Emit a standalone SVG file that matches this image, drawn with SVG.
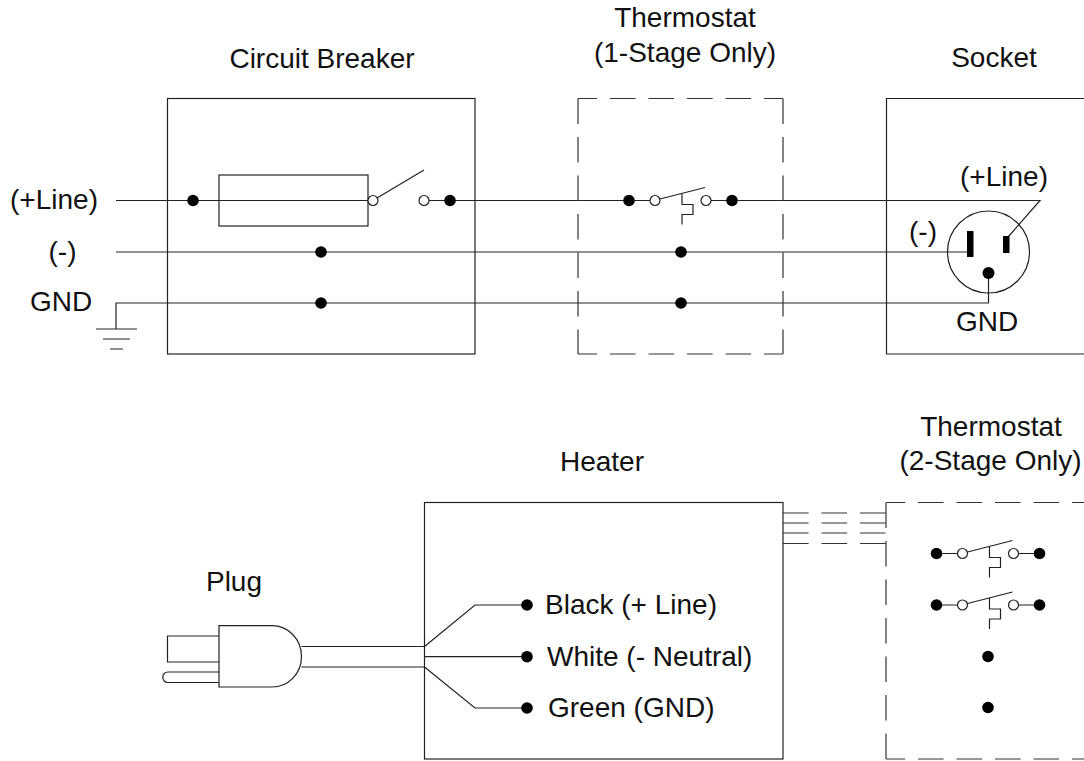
<svg xmlns="http://www.w3.org/2000/svg" width="1084" height="761" viewBox="0 0 1084 761">
<defs>
<style>
text{font-family:"Liberation Sans",Arial,sans-serif;font-size:28px;fill:#111}
.m{text-anchor:middle}
.l{fill:none;stroke:#222;stroke-width:1.2}
.d{fill:none;stroke:#333;stroke-width:1.2;stroke-dasharray:25.6 12.9}
.h{stroke-dashoffset:6.5}
.o{fill:#fff;stroke:#222;stroke-width:1.2}
.b{fill:#000}
</style>
<g id="sw"><circle class="b" cx="0" cy="0" r="5.800"/><path class="l" d="M5 0H21M77 0H103"/><circle class="o" cx="26" cy="0" r="5"/><circle class="o" cx="77" cy="0" r="5"/><circle class="b" cx="103" cy="0" r="5.800"/><path class="l" d="M31 -1.500L76 -13M53 -7V4H64V14H53V24"/></g>
</defs>
<g id="connectors">
<path class="l" d="M116 200.500H368M429 200.500H629M738 200.500H1040L1008 237"/>
<path class="l" d="M116 252H967"/>
<path class="l" d="M96 329H137M103 339H130M110 349H123M116 329V303H988.500V273"/>
<path class="l" d="M301.500 646.500H424.500M301.500 667H424.500M424.500 646.500L475 605H527M424.500 656.700H527M424.500 667L475 708H527"/>
<path class="d" d="M783 513H886M783 523H886M783 533H886M783 543.500H886"/>
</g>
<g id="circuit-breaker">
<rect class="l" x="167.500" y="98.500" width="307.500" height="255.500"/>
<rect class="l" x="219" y="175" width="149" height="51"/>
<circle class="b" cx="193" cy="200.500" r="5.800"/><circle class="b" cx="321" cy="252" r="5.800"/><circle class="b" cx="321" cy="303" r="5.800"/><circle class="b" cx="450" cy="200.500" r="5.800"/>
<circle class="o" cx="373" cy="200.500" r="5"/><circle class="o" cx="424" cy="200.500" r="5"/>
<path class="l" d="M377 198L424 170"/>
<text class="m" x="322" y="68">Circuit Breaker</text>
</g>
<g id="labels-left">
<text class="m" x="54" y="209">(+Line)</text>
<text class="m" x="62.500" y="261">(-)</text>
<text class="m" x="61" y="311">GND</text>
</g>
<g id="thermostat-1">
<path class="d h" d="M578 98.500H783M578 354H783"/>
<path class="d" d="M578 98.500V354M783 98.500V354"/>
<use href="#sw" x="629" y="200.500"/>
<circle class="b" cx="681" cy="252" r="5.800"/><circle class="b" cx="681" cy="303" r="5.800"/>
<text class="m" x="685" y="27">Thermostat</text>
<text class="m" x="685" y="62">(1-Stage Only)</text>
</g>
<g id="socket">
<path class="l" d="M1084 98.500H886.500V354H1084"/>
<circle class="l" cx="988.500" cy="252" r="41"/>
<rect class="b" x="967" y="231" width="6.500" height="26"/>
<rect class="b" x="1003" y="236" width="6.500" height="17"/>
<circle class="b" cx="988.500" cy="273" r="6"/>
<text class="m" x="994" y="67">Socket</text>
<text class="m" x="1004" y="186">(+Line)</text>
<text class="m" x="923" y="241">(-)</text>
<text class="m" x="987" y="331">GND</text>
</g>
<g id="heater">
<rect class="l" x="424.500" y="502.500" width="358.500" height="256.500"/>
<circle class="b" cx="527" cy="605" r="5.800"/><circle class="b" cx="527" cy="656.700" r="5.800"/><circle class="b" cx="527" cy="708" r="5.800"/>
<text class="m" x="602" y="471">Heater</text>
<text x="545" y="614">Black (+ Line)</text>
<text x="547" y="666">White (- Neutral)</text>
<text x="548" y="717">Green (GND)</text>
</g>
<g id="plug">
<path class="l" d="M219 636H167.500V662H219M219 672H168A5 5 0 0 0 168 682.500H219"/>
<path class="l" d="M219 625.700H272C288 625.700 301.500 639 301.500 656.500C301.500 674 288 687 272 687H219Z"/>
<text class="m" x="234" y="591">Plug</text>
</g>
<g id="thermostat-2">
<path class="d h" d="M886 502.500H1084M886 759H1084"/>
<path class="d" d="M886 502.500V759"/>
<use href="#sw" x="936.500" y="553.500"/>
<use href="#sw" x="936.500" y="605"/>
<circle class="b" cx="988" cy="656.500" r="5.800"/><circle class="b" cx="988" cy="707.500" r="5.800"/>
<text class="m" x="991" y="436">Thermostat</text>
<text class="m" x="990.500" y="470">(2-Stage Only)</text>
</g>
</svg>
